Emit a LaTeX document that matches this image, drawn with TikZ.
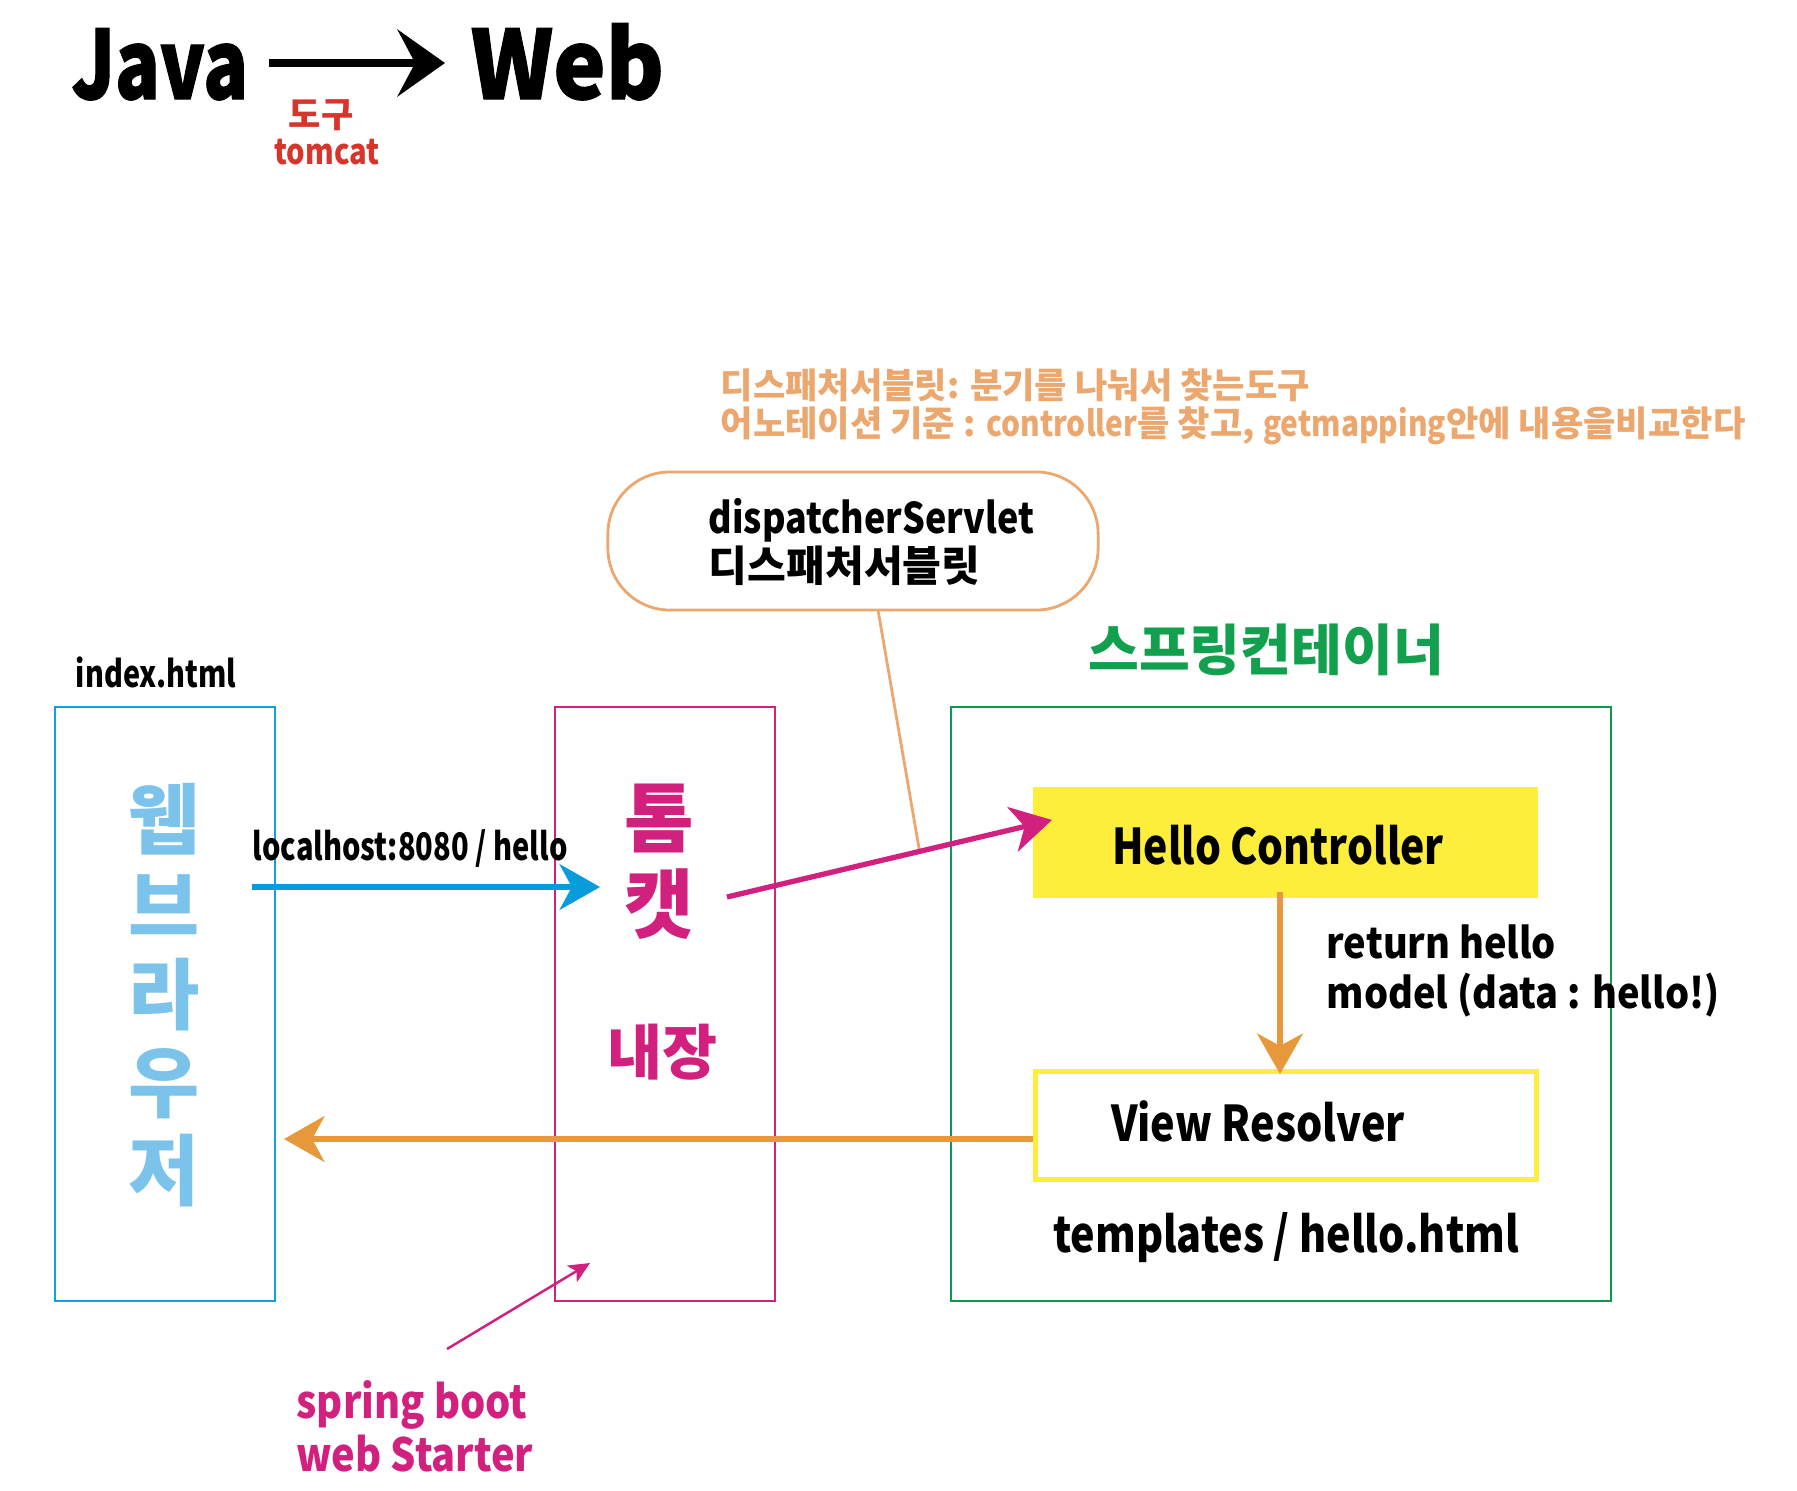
\documentclass[tikz,border=0pt]{standalone}
\usepackage{fontspec}
\setmainfont{Noto Sans CJK KR}
\usetikzlibrary{arrows.meta}
\definecolor{cred}{HTML}{D7342B}
\definecolor{cpeach}{HTML}{EBA76E}
\definecolor{cgreen}{HTML}{0E9A4E}
\definecolor{cgtext}{HTML}{13A04E}
\definecolor{cblue}{HTML}{10A0E3}
\definecolor{clblue}{HTML}{7CC3EC}
\definecolor{cbarrow}{HTML}{089CDD}
\definecolor{cmag}{HTML}{D2207F}
\definecolor{cyellow}{HTML}{FDEE3C}
\definecolor{corange}{HTML}{E6983A}
\newcommand\mkfont[3]{\bfseries\fontsize{#1}{#2}\selectfont\addfontfeature{FakeStretch=#3}}
\newcommand\lat[1]{{\addfontfeature{FakeStretch=0.85}#1}}
\tikzset{
  txt/.style={inner sep=0pt, font=\bfseries\fontsize{#1}{#1}\selectfont},
  frame/.style={draw=#1, line width=0.7pt, inner sep=0pt, minimum width=2.2cm, minimum height=5.94cm},
  bigtip/.style={-{Stealth[length=11.5pt, width=13pt, inset=3.5pt]}, line width=1.5pt},
}
\begin{document}
\begin{tikzpicture}[x=0.01cm, y=-0.01cm]
\useasboundingbox (0,0) rectangle (1797,1490);

% title
\node[inner sep=0pt, anchor=base west, font=\mkfont{27}{27}{0.78}\addfontfeature{FakeBold=1.2}] (java) at (71,99) {Java};
\node[inner sep=0pt, anchor=base west, font=\mkfont{27}{27}{0.93}\addfontfeature{FakeBold=1.2}] (web) at (470,99) {Web};
\coordinate (ja) at (269,63);
\coordinate (wa) at (445,63);
\draw[-{Stealth[length=13.5pt, width=19pt, inset=5pt]}, line width=2.3pt] (ja) -- (wa);
\node[txt=10, text=cred] (dogu) at (321,115) {도구};
\node[inner sep=0pt, text=cred, font=\mkfont{10}{10}{0.83}] (tomcatlbl) at (327,152) {tomcat};

% annotation
\node[txt=10, text=cpeach, anchor=west] (ann1) at (720,385) {디스패처서블릿: 분기를 나눠서 찾는도구};
\node[txt=10, text=cpeach, anchor=west] (ann2) at (720,426) {어노테이션 기준 : \lat{controller}를 찾고, \lat{getmapping}안에 내용을비교한다};

% dispatcher
\node[draw=cpeach, line width=0.8pt, rounded corners=0.62cm, minimum width=4.9cm, minimum height=1.38cm, inner sep=0pt] (disp) at (853,541) {};
\node[inner sep=0pt, anchor=west, align=left, font=\bfseries\fontsize{12}{13.6}\selectfont] (disptext) at (708,542) {{\addfontfeature{FakeStretch=0.85}dispatcherServlet}\\디스패처서블릿};
\coordinate (leadA) at (878,610);
\coordinate (leadB) at (920,854);
\draw[cpeach, line width=0.8pt] (leadA) -- (leadB);

% labels above boxes
\node[txt=15.7, text=cgtext] (springlbl) at (1266,650) {스프링컨테이너};
\node[inner sep=0pt, font=\mkfont{10.5}{10.5}{0.78}] (indexlbl) at (156,672) {index.html};

% boxes
\node[frame=cblue] (browser) at (165,1004) {};
\node[frame=cmag] (tomcat) at (665,1004) {};
\node[frame=cgreen, minimum width=6.6cm] (spring) at (1281,1004) {};
\node[fill=cyellow, inner sep=0pt, minimum width=5.05cm, minimum height=1.11cm] (ctrl) at (1285.5,842.5) {};
\node[draw=cyellow, line width=1.4pt, inner sep=0pt, minimum width=5.01cm, minimum height=1.08cm] (vr) at (1286,1125.5) {};

% box texts
\node[inner sep=0pt, text=clblue, align=center, font=\bfseries\fontsize{22}{25}\selectfont] (browsertext) at (164,995) {웹\\브\\라\\우\\저};
\node[inner sep=0pt, text=cmag, align=center, font=\bfseries\fontsize{21.5}{24.5}\selectfont] (tomtext) at (659,862) {톰\\캣};
\node[txt=17, text=cmag] (naejang) at (662,1052) {내장};
\node[inner sep=0pt, font=\mkfont{14}{14}{0.83}] (ctrltext) at (1278,845) {Hello Controller};
\node[inner sep=0pt, font=\mkfont{14}{14}{0.84}] (vrtext) at (1258,1121) {View Resolver};
\node[inner sep=0pt, font=\mkfont{14}{14}{0.84}] (tpl) at (1286,1238) {templates / hello.html};
\node[inner sep=0pt, anchor=west, align=left, font=\mkfont{12}{14}{0.9}] (ret) at (1326,971) {return hello\\model (data : hello!)};
\node[inner sep=0pt, anchor=west, font=\mkfont{10.8}{10.8}{0.765}] (localhost) at (252,849) {localhost:8080 / hello};
\node[inner sep=0pt, text=cmag, anchor=west, align=left, font=\mkfont{13}{15}{0.87}] (starter) at (296,1426) {spring boot\\web Starter};

% connectors
\coordinate (bA) at (252,887);
\coordinate (tA) at (600,887);
\draw[bigtip, cbarrow] (bA) -- (tA);
\coordinate (tB) at (727,897);
\coordinate (cB) at (1052,820);
\draw[bigtip, cmag] (tB) -- (cB);
\coordinate (cC) at (1280,892);
\coordinate (vC) at (1280,1074);
\draw[bigtip, corange] (cC) -- (vC);
\coordinate (vD) at (1033,1139);
\coordinate (bD) at (284,1139);
\draw[bigtip, corange] (vD) -- (bD);
\coordinate (sE) at (447,1349);
\coordinate (tE) at (590,1263);
\draw[-{Stealth[length=6pt, width=5.5pt, inset=1.5pt]}, cmag, line width=0.7pt] (sE) -- (tE);
\end{tikzpicture}
\end{document}
